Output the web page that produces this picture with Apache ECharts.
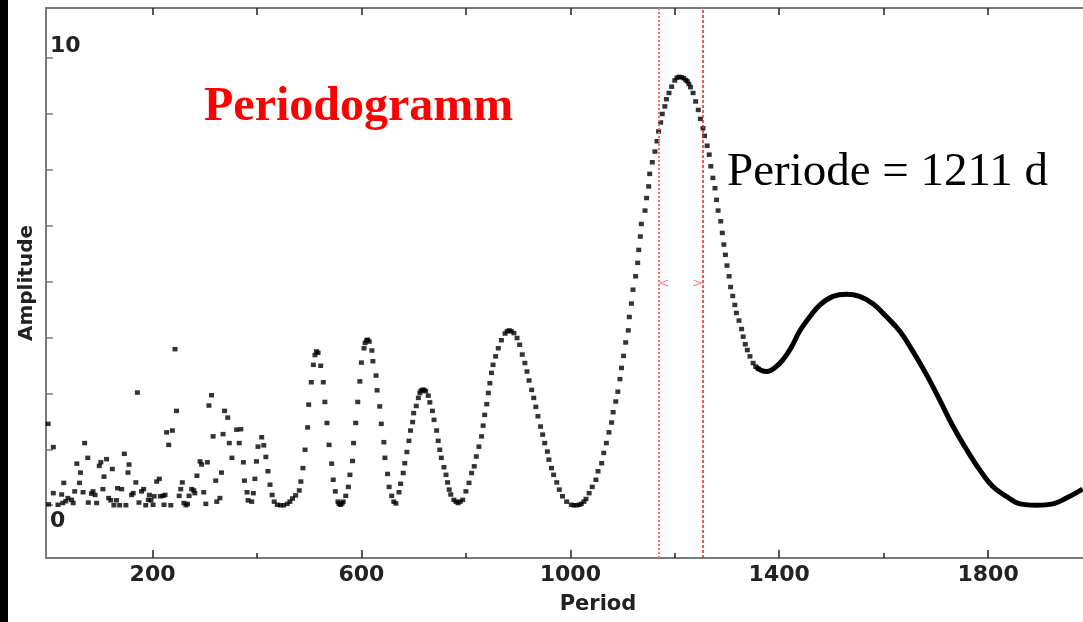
<!DOCTYPE html>
<html>
<head>
<meta charset="utf-8">
<script src="https://cdn.jsdelivr.net/npm/echarts@6/dist/echarts.min.js"></script>
<style>html,body{margin:0;padding:0;background:#fff}#c{width:1083px;height:622px}</style>
</head>
<body>
<div id="c"></div>
<script>
// ---- data (period in days, amplitude) ----
const noisePoints = [
[0,1.82],[10,1.30],[1,0.02],[10,0.27],[19,0.01],[26,0.24],[30,0.50],[28,0.05],[34,0.09],[38,0.16],
[45,0.12],[48,0.05],[51,0.31],[55,0.93],[60,0.50],[62,0.73],[67,0.29],[70,1.39],[76,1.06],[77,0.06],
[83,0.26],[86,0.31],[90,0.23],[93,0.05],[98,0.88],[101,0.96],[105,0.36],[107,0.64],[112,1.03],[116,0.16],
[120,0.11],[123,0.81],[126,0],[131,0.11],[133,0.38],[137,0],[141,0.36],[146,1.15],[149,0],[153,0.73],
[155,0.91],[160,0.23],[163,0.27],[168,0.51],[171,2.52],[174,0.06],[179,0.31],[183,0.36],[187,0],[192,0.12],
[194,0.23],[197,0.11],[201,0.01],[203,0.20],[208,0.53],[213,0.59],[215,0.20],[220,0.21],[224,0.23],[222,0.01],
[227,1.63],[231,1.35],[235,0],[238,1.67],[243,3.49],[246,2.11],[251,0.21],[254,0.36],[257,0.51],[260,0.05],
[264,0],[267,0.03],[270,0.21],[275,0.36],[279,0.33],[281,0.27],[285,0.66],[291,0.98],[294,0.91],[298,0.29],
[302,0.03],[305,0.96],[308,2.23],[313,2.46],[316,1.54],[321,0.55],[323,0.08],[329,0.16],[332,0.73],[335,1.59],
[338,2.11],[344,1.96],[347,1.39],[352,1.06],[361,1.69],[366,1.39],[369,1.70],[374,0.96],[376,0.55],[381,0.29],[383,0.11]
];
const wavePoints = [
[390,0.08],[393,0.27],[396,0.59],[399,0.98],[402,1.31],[409,1.52],[413,1.34],[417,1.08],[421,0.76],[425,0.46],
[429,0.23],[433,0.08],[439,0.01],[445,0],[451,0],[458,0.03],[463,0.08],[468,0.15],[474,0.22],[481,0.33],
[484,0.53],[488,0.83],[492,1.24],[497,1.74],[499,2.25],[504,2.75],[508,3.14],[511,3.36],[514,3.44],[517,3.41],
[522,3.12],[527,2.75],[530,2.31],[534,1.84],[538,1.35],[543,0.93],[546,0.57],[550,0.31],[555,0.08],[557,0.03],
[560,0.01],[563,0.04],[565,0.08],[570,0.21],[575,0.41],[578,0.68],[583,0.99],[585,1.39],[589,1.84],[593,2.31],
[597,2.77],[600,3.19],[605,3.51],[607,3.63],[610,3.69],[612,3.70],[615,3.66],[620,3.46],[622,3.22],[628,2.90],
[630,2.57],[635,2.21],[638,1.82],[643,1.41],[645,1.06],[650,0.70],[653,0.41],[658,0.21],[662,0.08],[666,0.04],
[672,0.29],[675,0.48],[680,0.72],[683,0.94],[687,1.19],[691,1.44],[694,1.67],[698,1.86],[700,2.06],[705,2.22],
[709,2.40],[712,2.51],[714,2.56],[717,2.58],[720,2.58],[723,2.55],[728,2.45],[731,2.30],[736,2.11],[739,1.91],
[744,1.67],[747,1.44],[750,1.24],[753,1.06],[758,0.85],[762,0.68],[765,0.51],[768,0.35],[771,0.24],[777,0.12],
[781,0.08],[785,0.05],[789,0.08],[794,0.12],[800,0.31],[806,0.50],[811,0.72],[816,0.87],[820,1.09],[825,1.31],
[830,1.54],[833,1.78],[836,2.02],[840,2.26],[843,2.51],[846,2.73],[849,2.96],[852,3.14],[857,3.33],[862,3.51],
[868,3.69],[875,3.84],[879,3.89],[883,3.91],[887,3.89],[892,3.85],[898,3.74],[903,3.59],[908,3.37],[913,3.18],
[917,2.99],[921,2.79],[926,2.58],[930,2.40],[934,2.20],[938,1.99],[943,1.76],[947,1.58],[951,1.39],[956,1.20],
[959,1.02],[964,0.83],[968,0.68],[974,0.51],[979,0.35],[985,0.20],[993,0.08],[1002,0.01],[1007,0],[1012,0],
[1017,0.01],[1021,0.03],[1026,0.08],[1030,0.14],[1036,0.27],[1042,0.41],[1049,0.57],[1053,0.76],[1060,0.94],[1064,1.17],
[1069,1.39],[1074,1.63],[1079,1.85],[1082,2.08],[1087,2.32],[1091,2.54],[1095,2.82],[1098,3.07],[1102,3.34],[1106,3.64],
[1111,3.91],[1113,4.21],[1117,4.51],[1120,4.82],[1125,5.12],[1129,5.42],[1131,5.71],[1134,6.01],[1136,6.29],[1143,6.59],
[1146,6.87],[1150,7.13],[1152,7.41],[1157,7.67],[1162,7.91],[1166,8.14],[1169,8.36],[1173,8.56],[1176,8.75],[1181,8.92],
[1184,9.08],[1189,9.22],[1194,9.36],[1200,9.50],[1204,9.56],[1208,9.58],[1213,9.57],[1217,9.55],[1221,9.51],[1224,9.48],
[1227,9.42],[1230,9.35],[1235,9.22],[1240,9.03],[1245,8.84],[1249,8.64],[1254,8.43],[1257,8.26],[1262,8.04],[1266,7.84],
[1269,7.58],[1273,7.32],[1277,7.09],[1280,6.83],[1283,6.59],[1288,6.35],[1291,6.09],[1294,5.83],[1297,5.60],[1300,5.36],
[1304,5.12],[1307,4.88],[1311,4.68],[1315,4.48],[1318,4.30],[1323,4.13],[1328,3.94],[1331,3.77],[1335,3.60],[1339,3.47],
[1344,3.33],[1350,3.18],[1355,3.10],[1360,3.05]
];
const tailCurve = [
[1355,3.10],[1365,3.02],[1376,2.99],[1391,3.07],[1407,3.25],[1424,3.55],[1439,3.89],[1459,4.22],[1478,4.48],[1503,4.67],[1529,4.72],
[1554,4.67],[1580,4.50],[1605,4.22],[1631,3.89],[1656,3.44],[1682,2.92],[1707,2.36],[1733,1.76],[1759,1.24],[1784,0.79],
[1809,0.42],[1835,0.20],[1861,0.03],[1893,0],[1924,0.03],[1950,0.16],[1981,0.36]
];
const rangeBounds = [1169, 1254];
const rangeMarkY = 4.95;
const bottomMajorTicks = [200, 600, 1000, 1400, 1800];
const bottomMinorTicks = [400, 800, 1200, 1600, 2000];
const topTicks = [200, 400, 600, 800, 1000, 1200, 1400, 1600, 1800, 2000];
const ampTicks = [0, 1.25, 2.5, 3.75, 5, 6.25, 7.5, 8.75, 10];
const ampLabels = [0, 10];

const chart = echarts.init(document.getElementById('c'), null, {renderer: 'canvas'});
const AX = '#7a7a7a';
const FONT = 'DejaVu Sans';
const lblStyle = {fontFamily: FONT, fontWeight: 'bold', fontSize: 22, color: '#222'};
chart.setOption({
  animation: false,
  backgroundColor: '#ffffff',
  grid: {left: 46, top: 8, width: 1104, height: 550, containLabel: false, outerBoundsMode: 'none'},
  xAxis: [
    {
      type: 'value', position: 'bottom', min: -4, max: 2110,
      name: 'Period', nameLocation: 'middle', nameGap: 36,
      nameTextStyle: {fontFamily: FONT, fontWeight: 'bold', fontSize: 21, color: '#222'},
      axisLine: {show: true, onZero: false, lineStyle: {color: AX, width: 2}},
      axisTick: {show: true, inside: true, length: 8, customValues: bottomMajorTicks, lineStyle: {color: '#222', width: 1.5}},
      axisLabel: Object.assign({show: true, customValues: bottomMajorTicks, margin: 6, formatter: v => String(v)}, lblStyle),
      splitLine: {show: false}
    },
    {
      type: 'value', position: 'bottom', min: -4, max: 2110,
      axisLine: {show: false, onZero: false},
      axisTick: {show: true, inside: true, length: 5, customValues: bottomMinorTicks, lineStyle: {color: '#222', width: 1.5}},
      axisLabel: {show: false}, splitLine: {show: false}
    },
    {
      type: 'value', position: 'top', min: -4, max: 2110,
      axisLine: {show: true, onZero: false, lineStyle: {color: AX, width: 2}},
      axisTick: {show: true, inside: true, length: 7, customValues: topTicks, lineStyle: {color: '#222', width: 1.5}},
      axisLabel: {show: false}, splitLine: {show: false}
    }
  ],
  yAxis: [
    {
      type: 'value', position: 'left', min: -1.18, max: 11.12,
      name: 'Amplitude', nameLocation: 'middle', nameGap: 9, nameRotate: 90,
      nameTextStyle: {fontFamily: FONT, fontWeight: 'bold', fontSize: 20, color: '#222'},
      axisLine: {show: true, onZero: false, lineStyle: {color: AX, width: 2}},
      axisTick: {show: true, inside: true, length: 7, customValues: ampTicks, lineStyle: {color: AX, width: 1.5}},
      axisLabel: Object.assign({
        show: true, inside: true, customValues: ampLabels, margin: 4,
        formatter: v => (v === 10 ? '{a|10}\n{a| }' : '{b| }\n{b|0}'),
        rich: {
          a: Object.assign({lineHeight: 24}, lblStyle),
          b: Object.assign({lineHeight: 32}, lblStyle)
        }
      }, lblStyle),
      splitLine: {show: false}
    }
  ],
  series: [
    {
      type: 'scatter', name: 'noise', xAxisIndex: 0, yAxisIndex: 0,
      data: noisePoints, symbol: 'rect', symbolSize: [5, 4.5],
      itemStyle: {color: '#000'}, silent: true
    },
    {
      type: 'scatter', name: 'wave', xAxisIndex: 0, yAxisIndex: 0,
      data: wavePoints, symbol: 'rect', symbolSize: [5, 4.5],
      itemStyle: {color: '#000'}, silent: true,
      markLine: {
        silent: true, symbol: 'none', label: {show: false},
        data: [
          {xAxis: rangeBounds[0], lineStyle: {color: '#ff6b6b', type: [2, 2], width: 2}},
          {xAxis: rangeBounds[1], lineStyle: {color: '#e8202a', type: [3, 2], width: 1.5}}
        ]
      }
    },
    {
      type: 'line', name: 'tail', xAxisIndex: 0, yAxisIndex: 0,
      data: tailCurve, smooth: 0.4, showSymbol: false,
      lineStyle: {color: '#000', width: 5}, silent: true
    },
    {
      type: 'scatter', name: 'bounds', xAxisIndex: 0, yAxisIndex: 0,
      data: [
        {value: [rangeBounds[0], rangeMarkY], label: {formatter: '<', position: 'right', distance: 0}},
        {value: [rangeBounds[1], rangeMarkY], label: {formatter: '>', position: 'left', distance: 0}}
      ],
      symbolSize: 0,
      label: {show: true, color: '#ff5a5a', fontSize: 13, fontFamily: FONT},
      silent: true
    }
  ],
  graphic: [
    {type: 'rect', left: 0, top: 0, shape: {width: 8, height: 622}, style: {fill: '#000'}},
    {type: 'text', x: 204, y: 108, style: {text: 'Periodogramm', fill: '#ff0000', font: 'bold 48px "Liberation Serif"', textVerticalAlign: 'middle'}},
    {type: 'text', x: 727, y: 173, style: {text: 'Periode = 1211 d', fill: '#000', font: '47px "Liberation Serif"', textVerticalAlign: 'middle'}}
  ]
});
</script>
</body>
</html>
